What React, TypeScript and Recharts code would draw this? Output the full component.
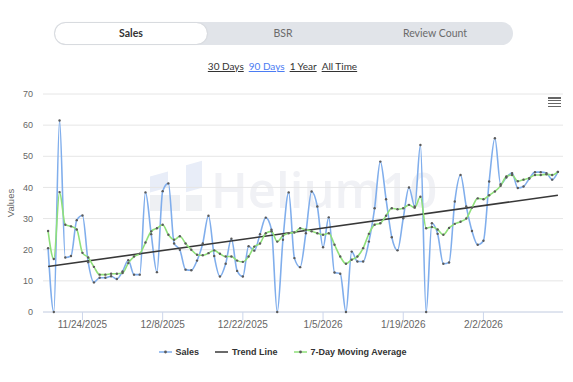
import { LineChart, Line, XAxis, YAxis, CartesianGrid } from "recharts";

// one point per day, day 0 = 11/18/2025
const sales = [
  20.5, 0, 61.5, 17.5, 18, 29.5, 31, 16, 9.5, 11,
  11, 11.5, 10.6, 13, 16.6, 12, 12, 38.4, 25, 12.8,
  38.8, 41.3, 22, 20, 13.6, 13.4, 16.5, 22, 30.9, 18,
  11.4, 15.5, 23.5, 13.2, 11.4, 21.1, 19.7, 25, 30.3, 26.4,
  0, 23.2, 38.4, 17.3, 14.4, 25.3, 38.7, 33.9, 20.8, 30.4,
  12.7, 12.3, 0, 19.4, 16.2, 16.2, 22.6, 33.3, 48.3, 36.2,
  24, 19.8, 30.1, 40, 33.9, 53.6, 0, 28.5, 25.1, 15.5,
  15.9, 35.5, 44, 33.9, 26, 21.6, 22.9, 41.9, 55.8, 41,
  43.2, 44.6, 39.8, 40.3, 42.8, 44.9, 44.9, 44.6, 42.5, 45,
];

const movingAvg = [
  26, 17, 38.5, 28, 27.5, 26.5, 19, 17.5, 14.5, 12,
  12, 12.3, 12.3, 12.5, 15.7, 17.8, 18.7, 22.3, 25.9, 26.9,
  28, 24.8, 23.2, 24.3, 22, 20, 18.4, 18.2, 18.9, 19.8,
  18.7, 17.8, 17.8, 16.5, 16.1, 17.8, 21, 22, 25.3, 25.9,
  22.6, 24.5, 25.3, 25.5, 26.9, 26.4, 25.9, 25.3, 24.8, 25.3,
  21.6, 17.8, 15.5, 16.8, 17.8, 20.5, 25.1, 28, 28.5, 30.9,
  33.3, 33, 33.3, 34.4, 33.5, 37, 26.9, 27.3, 26.5, 24.8,
  27, 28.3, 29, 30, 33.5, 36.5, 36.2, 37.5, 38.7, 40.5,
  43.5, 44, 42, 42.5, 43, 44, 44, 44.2, 44, 45,
];

const trendStart = 14.6;
const trendEnd = 37.5;

const tickDays = [6, 20, 34, 48, 62, 76];
const tickLabels = ["11/24/2025", "12/8/2025", "12/22/2025", "1/5/2026", "1/19/2026", "2/2/2026"];
const yTicks = [0, 10, 20, 30, 40, 50, 60, 70];

const tabs = ["Sales", "BSR", "Review Count"];
const ranges = ["30 Days", "90 Days", "1 Year", "All Time"];

const BLUE = "#80aeec";
const GREEN = "#8fe07a";
const TREND = "#383838";
const DOT = "#5a5a5a";

const data = sales.map((v, i) => ({
  day: i,
  sales: v,
  avg: movingAvg[i],
  trend: i === 0 ? trendStart : i === sales.length - 1 ? trendEnd : null,
}));

const pad = (sales.length - 1) * 0.01;

export default function App() {
  return (
    <div style={{ position: "absolute", left: 0, top: 0, width: 573, height: 382, background: "#fff", fontFamily: "Lato, sans-serif", overflow: "hidden" }}>
      {/* tab switch */}
      <div style={{ position: "absolute", left: 54, top: 22, width: 459, height: 23, borderRadius: 12, background: "#e1e4e9" }}>
        <div style={{ position: "absolute", left: 1, top: 1, width: 152, height: 21, borderRadius: 11, background: "#fff", boxShadow: "0 0 2px rgba(0,0,0,0.15)" }} />
        {tabs.map((t, i) => (
          <div key={t} style={{
            position: "absolute", left: [1, 153, 305][i], width: 152, top: 0, height: 23, lineHeight: "23px",
            textAlign: "center", fontSize: 10.5, fontWeight: i === 0 ? 700 : 400, color: i === 0 ? "#333" : "#6b6b6b",
          }}>{t}</div>
        ))}
      </div>

      {/* range links */}
      <div style={{ position: "absolute", left: 0, width: 565, top: 60, textAlign: "center", fontSize: 10, color: "#333" }}>
        {ranges.map((r, i) => (
          <span key={r} style={{ textDecoration: "underline", margin: "0 2.5px", color: i === 1 ? "#4b7cf3" : "#333" }}>{r}</span>
        ))}
      </div>

      <Watermark />

      <div style={{ position: "absolute", left: 0, top: 0 }}>
        <LineChart width={573} height={382} data={data} margin={{ top: 94, right: 10, bottom: 40, left: 13 }}>
          <CartesianGrid horizontal vertical={false} stroke="#e6e6e6" />
          <XAxis
            dataKey="day" type="number" domain={[-pad, sales.length - 1 + pad]} ticks={tickDays}
            tickFormatter={(v) => tickLabels[tickDays.indexOf(v)] ?? ""}
            height={30} stroke="#ccd6eb" tickSize={8} tickMargin={1}
            tick={{ fontSize: 10, fill: "#666", fontFamily: "Liberation Sans, Arial" }}
            allowDataOverflow
          />
          <YAxis
            domain={[0, 70]} ticks={yTicks} width={30} axisLine={false} tickLine={false} tickMargin={4}
            tick={{ fontSize: 9, fill: "#666", fontFamily: "Liberation Sans, Arial" }}
            label={{ value: "Values", angle: -90, position: "insideLeft", offset: -2, style: { textAnchor: "middle", fontSize: 9.5, fill: "#666", fontFamily: "Liberation Sans, Arial" } }}
          />
          <Line dataKey="sales" name="Sales" type="monotone" stroke={BLUE} strokeWidth={1.6}
            dot={{ r: 1.2, fill: DOT, stroke: "none" }} activeDot={false} isAnimationActive={false} />
          <Line dataKey="trend" name="Trend Line" type="linear" stroke={TREND} strokeWidth={1.6}
            dot={false} activeDot={false} connectNulls isAnimationActive={false} />
          <Line dataKey="avg" name="7-Day Moving Average" type="monotone" stroke={GREEN} strokeWidth={1.6}
            dot={{ r: 1.2, fill: DOT, stroke: "none" }} activeDot={false} isAnimationActive={false} />
        </LineChart>
      </div>

      {/* export menu icon */}
      <div style={{ position: "absolute", left: 548, top: 97 }}>
        {[0, 1, 2, 3].map((i) => (
          <div key={i} style={{ width: 13, height: 1.6, background: "#666", marginBottom: 1.3 }} />
        ))}
      </div>

      <ChartLegend />
    </div>
  );
}

function ChartLegend() {
  const items = [
    { label: "Sales", color: BLUE, dot: true },
    { label: "Trend Line", color: TREND, dot: false },
    { label: "7-Day Moving Average", color: GREEN, dot: true },
  ];
  return (
    <div style={{ position: "absolute", left: 0, width: 565, top: 347, display: "flex", justifyContent: "center", gap: 16, fontFamily: "Liberation Sans, Arial", fontSize: 9, fontWeight: 700, color: "#333" }}>
      {items.map((it) => (
        <div key={it.label} style={{ display: "flex", alignItems: "center", gap: 4 }}>
          <svg width={13} height={6}>
            <line x1={0} y1={3} x2={13} y2={3} stroke={it.color} strokeWidth={1.5} />
            {it.dot && <circle cx={6.5} cy={3} r={1.4} fill={DOT} />}
          </svg>
          <span>{it.label}</span>
        </div>
      ))}
    </div>
  );
}

function Watermark() {
  const light = "#e8edf8";
  const grey = "#eef0f3";
  return (
    <div style={{ position: "absolute", left: 0, top: 0 }}>
      <div style={{ position: "absolute", left: 150, top: 174, width: 18, height: 16, background: light, transform: "skewY(-15deg)" }} />
      <div style={{ position: "absolute", left: 186, top: 163, width: 16, height: 27, background: light, transform: "skewY(-15deg)" }} />
      <div style={{ position: "absolute", left: 150, top: 195, width: 30, height: 16, background: grey }} />
      <div style={{ position: "absolute", left: 186, top: 195, width: 16, height: 16, background: grey }} />
      <div style={{ position: "absolute", left: 211, top: 165, fontSize: 49, lineHeight: "48px", fontWeight: 600, color: "#f0f1f5", fontFamily: "Open Sans, sans-serif", whiteSpace: "nowrap" }}>
        Helium10
      </div>
    </div>
  );
}
